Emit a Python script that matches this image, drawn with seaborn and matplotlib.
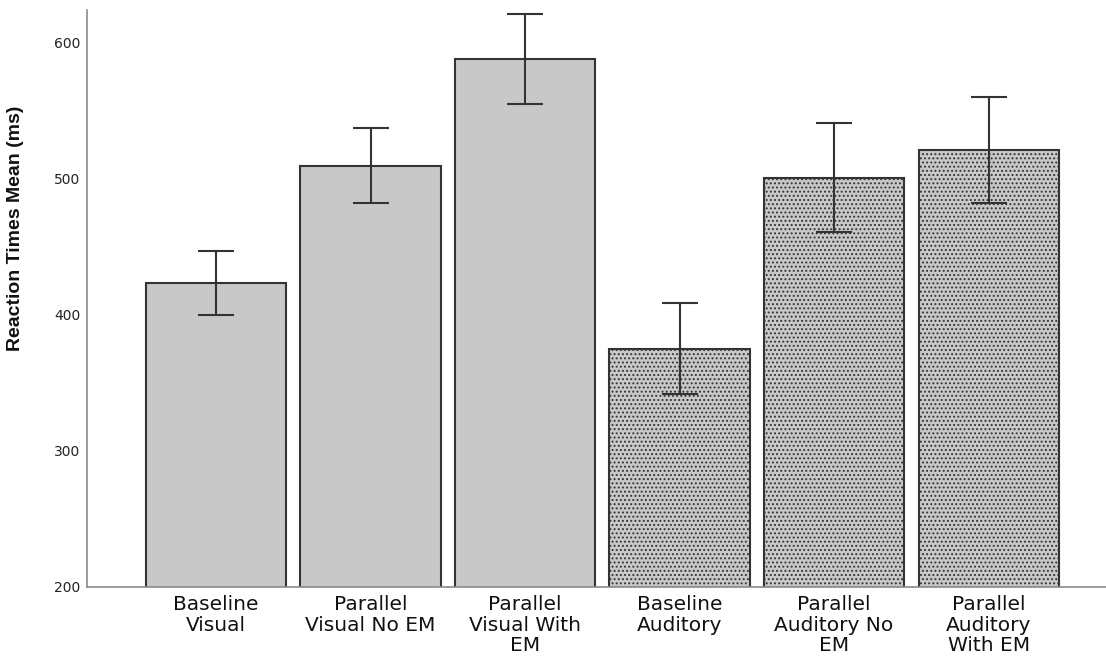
import matplotlib
matplotlib.use("Agg")
import matplotlib.pyplot as plt
import seaborn as sns
import numpy as np
import pandas as pd

categories = ["Baseline\nVisual", "Parallel\nVisual No EM", "Parallel\nVisual With\nEM",
              "Baseline\nAuditory", "Parallel\nAuditory No\nEM", "Parallel\nAuditory\nWith EM"]
means = [423.5, 509.5, 588, 375, 500.5, 521]
err_low = [400, 482, 555, 342, 461, 482]
err_high = [447, 537, 621, 409, 541, 560]
modality = ["Visual", "Visual", "Visual", "Auditory", "Auditory", "Auditory"]

sns.set_theme(style="white")
plt.rcParams['font.family'] = ['DejaVu Sans']
plt.rcParams['hatch.color'] = '#8a8a8a'
plt.rcParams['hatch.linewidth'] = 0.9

df = pd.DataFrame({"cat": categories, "mean": means})

fig = plt.figure(figsize=(11.06, 6.59), dpi=100)
ax = fig.add_axes([0.0787, 0.1093, 0.9213, 0.8757])

sns.barplot(data=df, x="cat", y="mean", color="#c8c8c8", saturation=1,
            width=0.907, edgecolor="#333333", linewidth=1.5, ax=ax, errorbar=None)

for patch, mod in zip(ax.patches, modality):
    patch.set_facecolor("#c8c8c8")
    if mod == "Auditory":
        patch.set_hatch("....")

x = np.arange(len(categories))
m = np.array(means)
yerr = np.vstack([m - np.array(err_low), np.array(err_high) - m])
ax.errorbar(x, m, yerr=yerr, fmt="none", ecolor="#333333", elinewidth=1.5,
            capsize=13.3, capthick=1.5)

ax.set_ylim(200, 624)
ax.set_xlim(-0.835, 5.76)
ax.set_yticks([200, 300, 400, 500, 600])
ax.tick_params(axis="y", labelsize=10, length=0, pad=5, colors="#222222")
ax.tick_params(axis="x", labelsize=14.5, length=0, pad=6, colors="#111111")
for lbl in ax.get_xticklabels():
    lbl.set_linespacing(1.08)
ax.set_xlabel("")
ax.set_ylabel("Reaction Times Mean (ms)", fontsize=14, fontweight="bold",
              family=["Liberation Sans", "DejaVu Sans"], color="#111111")
ax.yaxis.set_label_coords(-0.062, 0.622)
for side in ["top", "right"]:
    ax.spines[side].set_visible(False)
for side in ["left", "bottom"]:
    ax.spines[side].set_color("#8a8a8a")
    ax.spines[side].set_linewidth(1.2)

fig.savefig("out.png", dpi=100)
